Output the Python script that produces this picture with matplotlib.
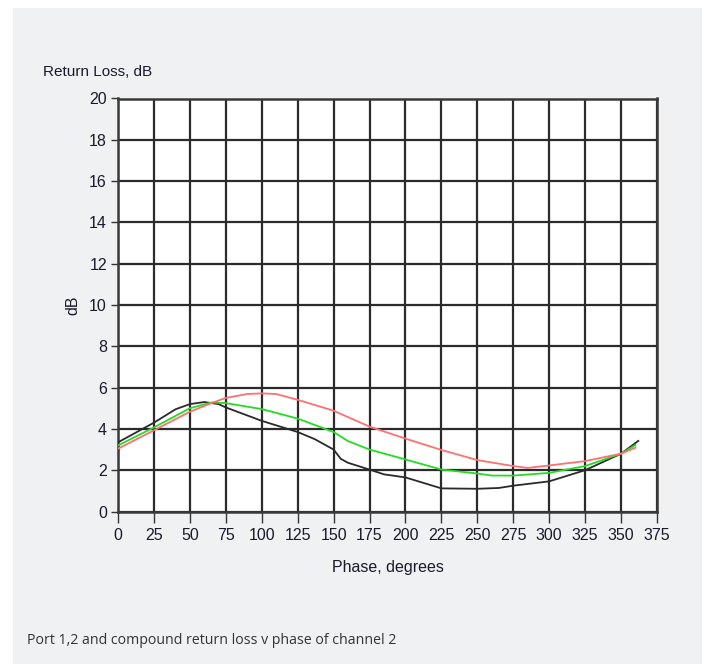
import matplotlib
matplotlib.use("Agg")
import matplotlib.pyplot as plt
from matplotlib.patches import Rectangle

# Data
phase_black = [0, 25, 40, 50, 60, 70, 75, 100, 125, 137, 150, 155, 160, 175, 185, 200, 225, 250, 265, 275, 300, 325, 350, 362]
rl_black = [3.35, 4.3, 4.95, 5.2, 5.3, 5.2, 5.04, 4.39, 3.85, 3.5, 3.0, 2.55, 2.36, 2.03, 1.8, 1.65, 1.12, 1.1, 1.14, 1.25, 1.46, 2.0, 2.8, 3.42]

phase_green = [0, 25, 50, 65, 75, 100, 125, 150, 160, 175, 200, 225, 250, 260, 275, 300, 325, 350, 360]
rl_green = [3.2, 4.07, 5.0, 5.28, 5.25, 4.96, 4.5, 3.85, 3.41, 3.0, 2.52, 2.03, 1.84, 1.74, 1.74, 1.87, 2.2, 2.8, 3.22]

phase_red = [0, 25, 50, 65, 75, 90, 100, 110, 125, 150, 175, 200, 225, 250, 275, 285, 300, 325, 350, 360]
rl_red = [3.04, 3.93, 4.83, 5.25, 5.5, 5.69, 5.72, 5.69, 5.41, 4.88, 4.11, 3.53, 2.98, 2.49, 2.2, 2.11, 2.23, 2.44, 2.8, 3.09]

x_ticks = list(range(0, 376, 25))
y_ticks = list(range(0, 21, 2))

W, H = 705, 664
fig = plt.figure(figsize=(W / 100, H / 100), dpi=100, facecolor="white")
fig.patches.append(Rectangle((13 / W, 0), (702 - 13) / W, (664 - 8) / H,
                             transform=fig.transFigure, facecolor="#f0f1f3",
                             edgecolor="none", zorder=-10))

left, right, top, bottom = 118, 657, 98.5, 511.5
ax = fig.add_axes([left / W, 1 - bottom / H, (right - left) / W, (bottom - top) / H])
ax.set_zorder(5)
ax.set_facecolor("white")

narrow = ["Liberation Sans", "DejaVu Sans"]

ax.plot(phase_black, rl_black, color="#2a2a2a", lw=1.3, zorder=3)
ax.plot(phase_green, rl_green, color="#22dd22", lw=1.3, zorder=4)
ax.plot(phase_red, rl_red, color="#ff7070", lw=1.3, zorder=5)

ax.set_xlim(0, 375)
ax.set_ylim(0, 20)
ax.set_xticks(x_ticks)
ax.set_yticks(y_ticks)
ax.grid(True, color="#2b2b2b", lw=1.6)
ax.set_axisbelow(True)
for s in ax.spines.values():
    s.set_color("#3a3a3a")
    s.set_linewidth(1.8)
ax.tick_params(axis="both", direction="out", width=1, color="#333333",
               labelsize=11.5, labelcolor="#1a1a2a")
ax.tick_params(axis="x", length=8, pad=4)
ax.tick_params(axis="y", length=5, pad=3)
for lab in ax.get_xticklabels() + ax.get_yticklabels():
    lab.set_family(narrow)

ax.set_ylabel("dB", family=narrow, fontsize=11.5, color="#1a1a2a", labelpad=6)
ax.set_xlabel("Phase, degrees", family=narrow, fontsize=11.5, color="#1a1a2a", labelpad=12)

fig.text(43 / W, 1 - 72 / H, "Return Loss, dB", family=narrow, fontsize=11,
         color="#1a1a2a", ha="left", va="center")
fig.text(27 / W, 1 - 640 / H, "Port 1,2 and compound return loss v phase of channel 2",
         family=["Open Sans", "DejaVu Sans"], fontsize=10.2, color="#333333",
         ha="left", va="center")

fig.savefig("out.png", dpi=100, facecolor=fig.get_facecolor())
